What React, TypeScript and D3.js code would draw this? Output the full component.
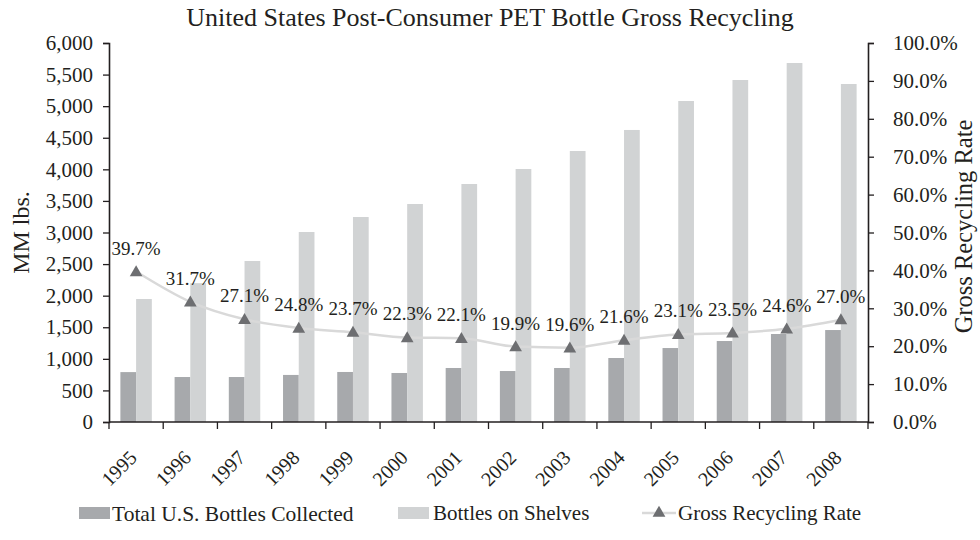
import { useEffect, useRef } from "react";
import * as d3 from "d3";

const years = ["1995", "1996", "1997", "1998", "1999", "2000", "2001", "2002", "2003", "2004", "2005", "2006", "2007", "2008"];
const collected = [790, 712, 712, 745, 792, 776, 855, 807, 855, 1013, 1171, 1282, 1393, 1456];
const shelves = [1947, 2198, 2549, 3008, 3245, 3451, 3768, 4005, 4290, 4623, 5082, 5414, 5683, 5351];
const rates = [0.397, 0.317, 0.271, 0.248, 0.237, 0.223, 0.221, 0.199, 0.196, 0.216, 0.231, 0.235, 0.246, 0.27];
const leftTicks = [0, 500, 1000, 1500, 2000, 2500, 3000, 3500, 4000, 4500, 5000, 5500, 6000];
const rightTicks = [0, 0.1, 0.2, 0.3, 0.4, 0.5, 0.6, 0.7, 0.8, 0.9, 1.0];

const FONT = "'Liberation Serif', 'Times New Roman', serif";
const INK = "#231f20";
const DARK = "#a7a9ac";
const LIGHT = "#d1d3d4";
const MARK = "#6d6e71";
const LINE = "#d9d9d9";

export default function App() {
    const svgRef = useRef<SVGSVGElement>(null);

    useEffect(() => {
        if (!svgRef.current) return;
        const left = 109, right = 868, top = 43, bottom = 422;

        const svg = d3.select(svgRef.current);
        svg.selectAll("*").remove();
        svg.attr("font-family", FONT);

        const x = d3.scaleBand().domain(years).range([left, right]).padding(0);
        const bw = x.bandwidth();
        const x1 = d3.scaleBand().domain(["c", "s"]).range([bw * 0.21, bw * 0.79]);
        const y = d3.scaleLinear().domain([0, 6000]).range([bottom, top]);
        const yr = d3.scaleLinear().domain([0, 1]).range([bottom, top]);

        // title
        svg.append("text")
            .attr("x", 490).attr("y", 26)
            .attr("text-anchor", "middle")
            .style("font-size", "26px")
            .attr("fill", INK)
            .text("United States Post-Consumer PET Bottle Gross Recycling");

        // bars
        const g = svg.append("g");
        years.forEach((yr0, i) => {
            g.append("rect")
                .attr("x", x(yr0)! + x1("c")!)
                .attr("y", y(collected[i]))
                .attr("width", x1.bandwidth())
                .attr("height", bottom - y(collected[i]))
                .attr("fill", DARK);
            g.append("rect")
                .attr("x", x(yr0)! + x1("s")!)
                .attr("y", y(shelves[i]))
                .attr("width", x1.bandwidth())
                .attr("height", bottom - y(shelves[i]))
                .attr("fill", LIGHT);
        });

        // rate line
        const line = d3.line<number>()
            .x((_, i) => x(years[i])! + bw / 2)
            .y((d) => yr(d))
            .curve(d3.curveMonotoneX);
        svg.append("path")
            .attr("d", line(rates))
            .attr("fill", "none")
            .attr("stroke", LINE)
            .attr("stroke-width", 2.5);

        const tri = d3.symbol().type(d3.symbolTriangle).size(70);
        rates.forEach((r, i) => {
            const cx = x(years[i])! + bw / 2;
            svg.append("path")
                .attr("d", tri())
                .attr("transform", `translate(${cx},${yr(r) + 1})`)
                .attr("fill", MARK);
            svg.append("text")
                .attr("x", cx)
                .attr("y", yr(r) - 17)
                .attr("text-anchor", "middle")
                .style("font-size", "19px")
                .attr("fill", INK)
                .text(d3.format(".1%")(r));
        });

        // left / right axes
        const la = svg.append("g")
            .attr("transform", `translate(${left},0)`)
            .call(d3.axisLeft(y).tickValues(leftTicks).tickSize(6).tickPadding(10).tickFormat(d3.format(",")));
        const ra = svg.append("g")
            .attr("transform", `translate(${right},0)`)
            .call(d3.axisRight(yr).tickValues(rightTicks).tickSize(6).tickPadding(19).tickFormat(d3.format(".1%")));
        [la, ra].forEach((a) => {
            a.select(".domain").attr("stroke", INK).attr("stroke-width", 1.6);
            a.selectAll("line").attr("stroke", INK).attr("stroke-width", 1.3);
            a.selectAll("text").style("font-size", "21px").attr("font-family", FONT).attr("fill", INK);
        });

        // bottom axis, ticks on category boundaries
        const ba = svg.append("g").attr("transform", `translate(0,${bottom})`);
        ba.append("line")
            .attr("x1", left).attr("x2", right)
            .attr("stroke", INK).attr("stroke-width", 1.6);
        [...years.map((d) => x(d)!), right].forEach((tx) => {
            ba.append("line")
                .attr("x1", tx).attr("x2", tx).attr("y1", 0).attr("y2", 7)
                .attr("stroke", INK).attr("stroke-width", 1.3);
        });
        years.forEach((d) => {
            const cx = x(d)! + bw / 2;
            ba.append("text")
                .attr("transform", `translate(${cx - 3},${32}) rotate(-45)`)
                .attr("text-anchor", "end")
                .attr("dy", "0.35em")
                .style("font-size", "20px")
                .attr("fill", INK)
                .text(d);
        });

        // axis titles
        svg.append("text")
            .attr("transform", `translate(29,${(top + bottom) / 2}) rotate(-90)`)
            .attr("text-anchor", "middle")
            .style("font-size", "24px")
            .attr("fill", INK)
            .text("MM lbs.");
        svg.append("text")
            .attr("transform", `translate(972,${(top + bottom) / 2 - 6}) rotate(-90)`)
            .attr("text-anchor", "middle")
            .style("font-size", "24.5px")
            .attr("fill", INK)
            .text("Gross Recycling Rate");

        // legend
        const lg = svg.append("g").attr("transform", "translate(0,513)");
        lg.append("rect").attr("x", 79).attr("y", -6).attr("width", 31).attr("height", 12).attr("fill", DARK);
        lg.append("text").attr("x", 112).attr("dy", "0.35em").style("font-size", "21.5px").attr("fill", INK).text("Total U.S. Bottles Collected");
        lg.append("rect").attr("x", 398).attr("y", -6).attr("width", 31).attr("height", 12).attr("fill", LIGHT);
        lg.append("text").attr("x", 433).attr("dy", "0.35em").style("font-size", "21px").attr("fill", INK).text("Bottles on Shelves");
        lg.append("line").attr("x1", 642).attr("x2", 676).attr("stroke", LINE).attr("stroke-width", 2.5);
        lg.append("path").attr("d", tri()).attr("transform", "translate(659,0)").attr("fill", MARK);
        lg.append("text").attr("x", 678).attr("dy", "0.35em").style("font-size", "21px").attr("fill", INK).text("Gross Recycling Rate");
    }, []);

    return (
        <svg
            ref={svgRef}
            width={980}
            height={540}
            style={{ position: "absolute", left: 0, top: 0, background: "#fff" }}
        />
    );
}
